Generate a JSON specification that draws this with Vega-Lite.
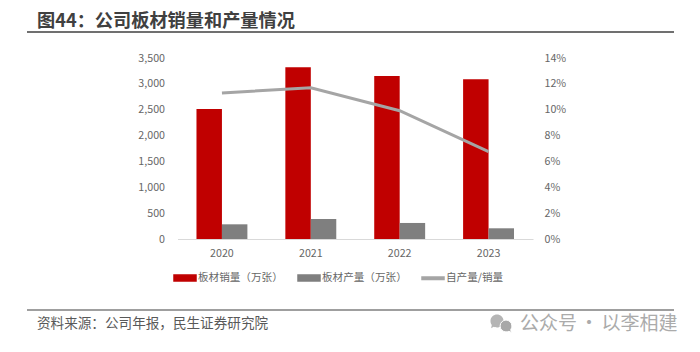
{
"$schema":"https://vega.github.io/schema/vega-lite/v6.json",
"width":355.5,"height":181,"autosize":"none",
"padding":{"left":177.5,"top":58,"right":167,"bottom":113},
"background":"white",
"title":{"text":"图44\uFF1A公司板材销量和产量情况","anchor":"start","frame":"group","dx":-140.5,"offset":0,"font":"Noto Sans CJK SC","fontSize":18.2,"fontWeight":"bold","color":"#404040"},
"config":{"view":{"stroke":null},"font":"Noto Sans CJK SC"},
"datasets":{
"main":[
{"year":"2020","series":"板材销量\uFF08万张\uFF09","value":2514},
{"year":"2021","series":"板材销量\uFF08万张\uFF09","value":3320},
{"year":"2022","series":"板材销量\uFF08万张\uFF09","value":3152},
{"year":"2023","series":"板材销量\uFF08万张\uFF09","value":3088},
{"year":"2020","series":"板材产量\uFF08万张\uFF09","value":284},
{"year":"2021","series":"板材产量\uFF08万张\uFF09","value":387},
{"year":"2022","series":"板材产量\uFF08万张\uFF09","value":310},
{"year":"2023","series":"板材产量\uFF08万张\uFF09","value":207},
{"year":"2020","series":"自产量/销量","value":0.113},
{"year":"2021","series":"自产量/销量","value":0.117},
{"year":"2022","series":"自产量/销量","value":0.0992},
{"year":"2023","series":"自产量/销量","value":0.0675}
]},
"data":{"name":"main"},
"layer":[
{"transform":[{"filter":"datum.series!='自产量/销量'"}],
 "mark":{"type":"bar"},
 "encoding":{
  "x":{"field":"year","type":"nominal","scale":{"paddingInner":0.427,"paddingOuter":0.2135},
   "axis":{"title":null,"labelAngle":0,"ticks":false,"domainColor":"#D9D9D9","domainWidth":1,"labelPadding":9,"labelFontSize":10.7,"labelColor":"#666666","grid":false}},
  "xOffset":{"field":"series","type":"nominal","scale":{"domain":["板材销量\uFF08万张\uFF09","板材产量\uFF08万张\uFF09"],"paddingInner":0,"paddingOuter":0}},
  "y":{"field":"value","type":"quantitative","scale":{"domain":[0,3500]},
   "axis":{"title":null,"orient":"left","values":[0,500,1000,1500,2000,2500,3000,3500],"format":",.0f","grid":false,"domain":false,"ticks":false,"labelPadding":13,"labelFontSize":10.7,"labelColor":"#666666"}},
  "color":{"field":"series","type":"nominal","scale":{"domain":["板材销量\uFF08万张\uFF09","板材产量\uFF08万张\uFF09","自产量/销量"],"range":["#C00000","#7F7F7F","#A5A5A5"]},
   "legend":{"title":null,"orient":"none","legendX":-4.5,"legendY":208,"direction":"horizontal","columns":3,"columnPadding":12,"symbolSize":484,"labelOffset":1,"labelFontSize":10.6,"labelColor":"#666666",
    "encode":{"symbols":{"update":{"shape":{"signal":"datum.value=='自产量/销量'?'M-1,-0.11H1V0.11H-1Z':'M-1,-0.27H1V0.27H-1Z'"},"fill":{"signal":"scale('color',datum.value)"},"stroke":{"value":"transparent"},"opacity":{"value":1}}}}}}
 }},
{"transform":[{"filter":"datum.series=='自产量/销量'"}],
 "mark":{"type":"line","strokeWidth":3},
 "encoding":{
  "x":{"field":"year","type":"nominal"},
  "y":{"field":"value","type":"quantitative","scale":{"domain":[0,0.14]},
   "axis":{"title":null,"orient":"right","values":[0,0.02,0.04,0.06,0.08,0.1,0.12,0.14],"format":".0%","grid":false,"domain":false,"ticks":false,"labelPadding":11,"labelFontSize":10.7,"labelColor":"#666666"}},
  "color":{"field":"series","type":"nominal"}
 }},
{"data":{"values":[{"a":1}]},
 "mark":{"type":"rule","stroke":"#404040","strokeWidth":1.6},
 "encoding":{"x":{"value":-150.5},"x2":{"value":496.5},"y":{"value":-26}}},
{"data":{"values":[{"a":1}]},
 "mark":{"type":"rule","stroke":"#404040","strokeWidth":1.2},
 "encoding":{"x":{"value":-150.5},"x2":{"value":496.5},"y":{"value":252}}},
{"data":{"values":[{"t":"资料来源\uFF1A公司年报\uFF0C民生证券研究院"}]},
 "mark":{"type":"text","align":"left","baseline":"middle","fontSize":13.6,"color":"#595959","font":"Noto Sans CJK SC"},
 "encoding":{"text":{"field":"t"},"x":{"value":-140.5},"y":{"value":266}}},
{"data":{"values":[{"t":"公众号"}]},
 "mark":{"type":"text","align":"left","baseline":"middle","fontSize":19,"color":"#ABABAB","font":"Noto Sans CJK SC"},
 "encoding":{"text":{"field":"t"},"x":{"value":342.5},"y":{"value":266}}},
{"data":{"values":[{"t":"·"}]},
 "mark":{"type":"text","align":"center","baseline":"middle","fontSize":19,"color":"#ABABAB","font":"Noto Sans CJK SC"},
 "encoding":{"text":{"field":"t"},"x":{"value":411.5},"y":{"value":266}}},
{"data":{"values":[{"t":"以李相建"}]},
 "mark":{"type":"text","align":"left","baseline":"middle","fontSize":19,"color":"#ABABAB","font":"Noto Sans CJK SC"},
 "encoding":{"text":{"field":"t"},"x":{"value":424},"y":{"value":266}}},
{"data":{"values":[{"a":1}]},
 "mark":{"type":"point","filled":true,"opacity":1,"color":"#B5B5B5","size":170,"shape":"M-1,0C-1,-0.6-0.5,-1,0,-1C0.5,-1,1,-0.6,1,0C1,0.6,0.5,1,0,1C-0.2,1-0.4,0.95-0.5,0.9L-0.9,1.1L-0.8,0.6C-0.95,0.4-1,0.2-1,0Z"},
 "encoding":{"x":{"value":319.5},"y":{"value":263}}},
{"data":{"values":[{"a":1}]},
 "mark":{"type":"point","filled":true,"opacity":1,"color":"#A8A8A8","stroke":"white","strokeWidth":1,"size":140,"shape":"M-1,0C-1,-0.6-0.5,-1,0,-1C0.5,-1,1,-0.6,1,0C1,0.2,0.95,0.4,0.8,0.6L0.9,1.1L0.5,0.9C0.4,0.95,0.2,1,0,1C-0.5,1,-1,0.6,-1,0Z"},
 "encoding":{"x":{"value":328.5},"y":{"value":268}}}
],
"resolve":{"scale":{"y":"independent"}}
}
